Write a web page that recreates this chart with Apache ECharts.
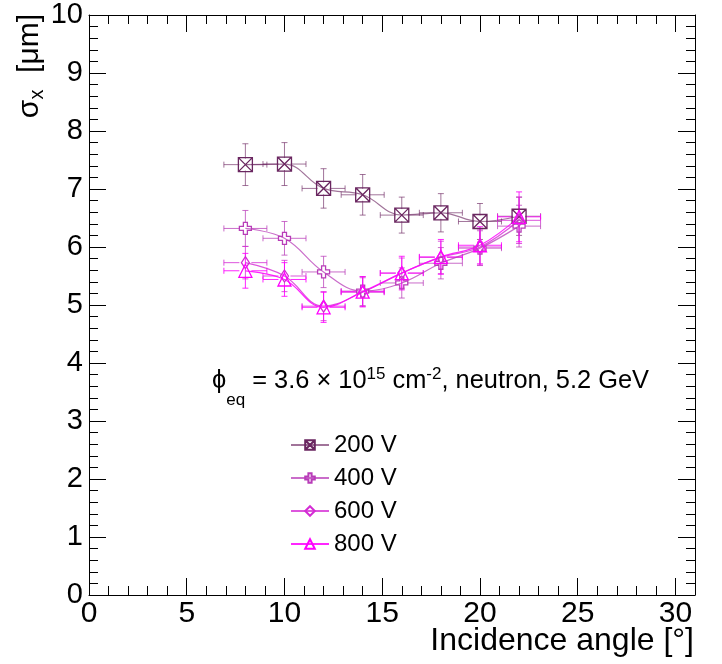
<!DOCTYPE html>
<html><head><meta charset="utf-8">
<script src="https://cdn.jsdelivr.net/npm/echarts@6/dist/echarts.min.js"></script>
<style>html,body{margin:0;padding:0;background:#fff}#c{width:722px;height:664px}</style>
</head><body><div id="c"></div>
<script>
// ---- data ----
const angles   = [8, 10, 12, 14, 16, 18, 20, 22];
const angleErr = [1.1, 1.1, 1.1, 1.1, 1.1, 1.1, 1.1, 1.1];
const sigma200 = [7.42, 7.43, 7.01, 6.90, 6.55, 6.59, 6.44, 6.53];
const err200   = [0.36, 0.37, 0.34, 0.35, 0.31, 0.33, 0.31, 0.33];
const sigma400 = [6.32, 6.15, 5.57, 5.24, 5.38, 5.72, 5.98, 6.36];
const err400   = [0.31, 0.29, 0.27, 0.25, 0.26, 0.27, 0.30, 0.36];
const sigma600 = [5.73, 5.50, 4.98, 5.22, 5.55, 5.82, 6.00, 6.46];
const err600   = [0.28, 0.27, 0.25, 0.25, 0.26, 0.28, 0.31, 0.40];
const sigma800 = [5.59, 5.44, 4.96, 5.23, 5.55, 5.83, 6.03, 6.52];
const err800   = [0.30, 0.29, 0.26, 0.26, 0.29, 0.30, 0.32, 0.43];
const legendNames = ['200 V', '400 V', '600 V', '800 V'];
const xTitle = 'Incidence angle [°]';

// ---- styles ----
const F = '"Liberation Sans", Arial, Helvetica, sans-serif';
const markColors = ['#6a2660', '#b83cb8', '#d42cd4', '#ff00ff'];
const lineColors = ['rgba(110,42,100,0.65)', 'rgba(184,60,184,0.75)', 'rgba(212,44,212,0.8)', 'rgba(255,0,255,0.85)'];
const symbols = [
  'path://M0,0L12,0L12,12L0,12ZM0,0L12,12M12,0L0,12',
  'path://M4,0L8,0L8,4L12,4L12,8L8,8L8,12L4,12L4,8L0,8L0,4L4,4Z',
  'diamond',
  'triangle'
];
const symbolSizes = [14, 12, [8, 12], 13];
const sigmas = [sigma200, sigma400, sigma600, sigma800];
const errs = [err200, err400, err600, err800];

function errRenderer(color) {
  return function (params, api) {
    const x = api.value(0), y = api.value(1), ex = api.value(2), ey = api.value(3);
    const c = api.coord([x, y]);
    const l = api.coord([x - ex, y]), r = api.coord([x + ex, y]);
    const t = api.coord([x, y + ey]), b = api.coord([x, y - ey]);
    const g = 6, cap = 3;
    const segs = [
      [l[0], c[1], c[0] - g, c[1]],
      [c[0] + g, c[1], r[0], c[1]],
      [c[0], t[1], c[0], c[1] - g],
      [c[0], c[1] + g, c[0], b[1]],
      [l[0], c[1] - cap, l[0], c[1] + cap],
      [r[0], c[1] - cap, r[0], c[1] + cap],
      [c[0] - cap, t[1], c[0] + cap, t[1]],
      [c[0] - cap, b[1], c[0] + cap, b[1]]
    ];
    return {
      type: 'group',
      children: segs.map(p => ({
        type: 'line',
        shape: { x1: p[0], y1: p[1], x2: p[2], y2: p[3] },
        style: { stroke: color, lineWidth: 1, fill: null }
      }))
    };
  };
}

const series = [];
legendNames.forEach((name, k) => {
  series.push({
    name: name + ' err', type: 'custom', xAxisIndex: 0, yAxisIndex: 0,
    renderItem: errRenderer(lineColors[k]),
    data: angles.map((a, i) => [a, sigmas[k][i], angleErr[i], errs[k][i]]),
    silent: true, animation: false
  });
  series.push({
    name: name, type: 'line', xAxisIndex: 0, yAxisIndex: 0,
    data: angles.map((a, i) => [a, sigmas[k][i]]),
    smooth: 0.4,
    color: markColors[k],
    symbol: symbols[k], symbolSize: symbolSizes[k],
    itemStyle: { color: 'rgba(255,255,255,0)', borderColor: markColors[k], borderWidth: 1.3 },
    lineStyle: { color: lineColors[k], width: 1.2 },
    emphasis: { disabled: true }, silent: true, animation: false
  });
});

const tickLine = { color: '#000', width: 1 };
function xAx(grid, pos, major, labels) {
  return {
    type: 'value', gridIndex: grid, position: pos, min: 0, max: 31, interval: major ? 5 : 1,
    axisLine: { show: major, onZero: false, lineStyle: tickLine },
    axisTick: { show: true, inside: true, length: major ? 17 : 9, lineStyle: tickLine },
    minorTick: { show: false },
    splitLine: { show: false },
    axisLabel: labels ? {
      show: true, fontSize: 30, fontFamily: F, color: '#000', margin: 4,
      formatter: v => (v % 5 === 0 ? String(v) : '')
    } : { show: false }
  };
}
function yAx(pos, labels) {
  return {
    type: 'value', gridIndex: 0, position: pos, min: 0, max: 10, interval: 1,
    axisLine: { show: true, onZero: false, lineStyle: tickLine },
    axisTick: { show: true, inside: true, length: 17, lineStyle: tickLine },
    minorTick: { show: true, splitNumber: 5, length: 9, lineStyle: tickLine },
    splitLine: { show: false },
    axisLabel: labels ? { show: true, fontSize: 29, fontFamily: F, color: '#000', margin: 6 } : { show: false }
  };
}

function textRun(x0, baseline, parts) {
  const ctx = document.createElement('canvas').getContext('2d');
  let x = x0;
  const els = [];
  parts.forEach(([t, fs, dy]) => {
    ctx.font = fs + 'px "Liberation Sans"';
    els.push({
      type: 'text', x: x, y: baseline + dy - 0.35 * fs, silent: true,
      style: { text: t, fontSize: fs, fontFamily: F, fill: '#000', align: 'left', verticalAlign: 'middle' }
    });
    x += ctx.measureText(t).width;
  });
  return els;
}

const graphics = textRun(212, 390, [
  ['ϕ', 25.4, 0], ['eq', 17, 16], [' = 3.6 × 10', 25.4, 0], ['15', 17, -10],
  [' cm', 25.4, 0], ['-2', 17, -10], [', neutron, 5.2 GeV', 25.4, 0]
]);
graphics.push({
  type: 'text', x: 694, y: 641, silent: true,
  style: { text: xTitle, fontSize: 32, fontFamily: F, fill: '#000', align: 'right', verticalAlign: 'middle' }
});
graphics.push({
  type: 'text', x: 47, y: 14, rotation: Math.PI / 2, silent: true,
  style: {
    text: '{m|σ}{s|x}{m|  [μm]}', align: 'right', verticalAlign: 'bottom',
    rich: {
      m: { fontSize: 30, fontFamily: F, fill: '#000', verticalAlign: 'middle', lineHeight: 34 },
      s: { fontSize: 20, fontFamily: F, fill: '#000', verticalAlign: 'bottom' }
    }
  }
});

const chart = echarts.init(document.getElementById('c'), null, { renderer: 'canvas' });
chart.setOption({
  animation: false,
  backgroundColor: '#fff',
  grid: [
    { left: 89, right: 27, top: 15, bottom: 69, containLabel: false },
    { left: 89, right: 27, top: 15, bottom: 69, containLabel: false }
  ],
  xAxis: [xAx(0, 'bottom', true, true), xAx(0, 'top', true, false), xAx(1, 'bottom', false, false), xAx(1, 'top', false, false)],
  yAxis: [yAx('left', true), yAx('right', false),
    { type: 'value', gridIndex: 1, min: 0, max: 10, show: false }],
  legend: {
    orient: 'vertical', left: 290, top: 433, padding: 0, itemWidth: 38, itemHeight: 12, itemGap: 9,
    selectedMode: false, data: legendNames,
    textStyle: { fontSize: 24, fontFamily: F, color: '#000', lineHeight: 24 }
  },
  graphic: graphics,
  series: series
});
</script>
</body></html>
